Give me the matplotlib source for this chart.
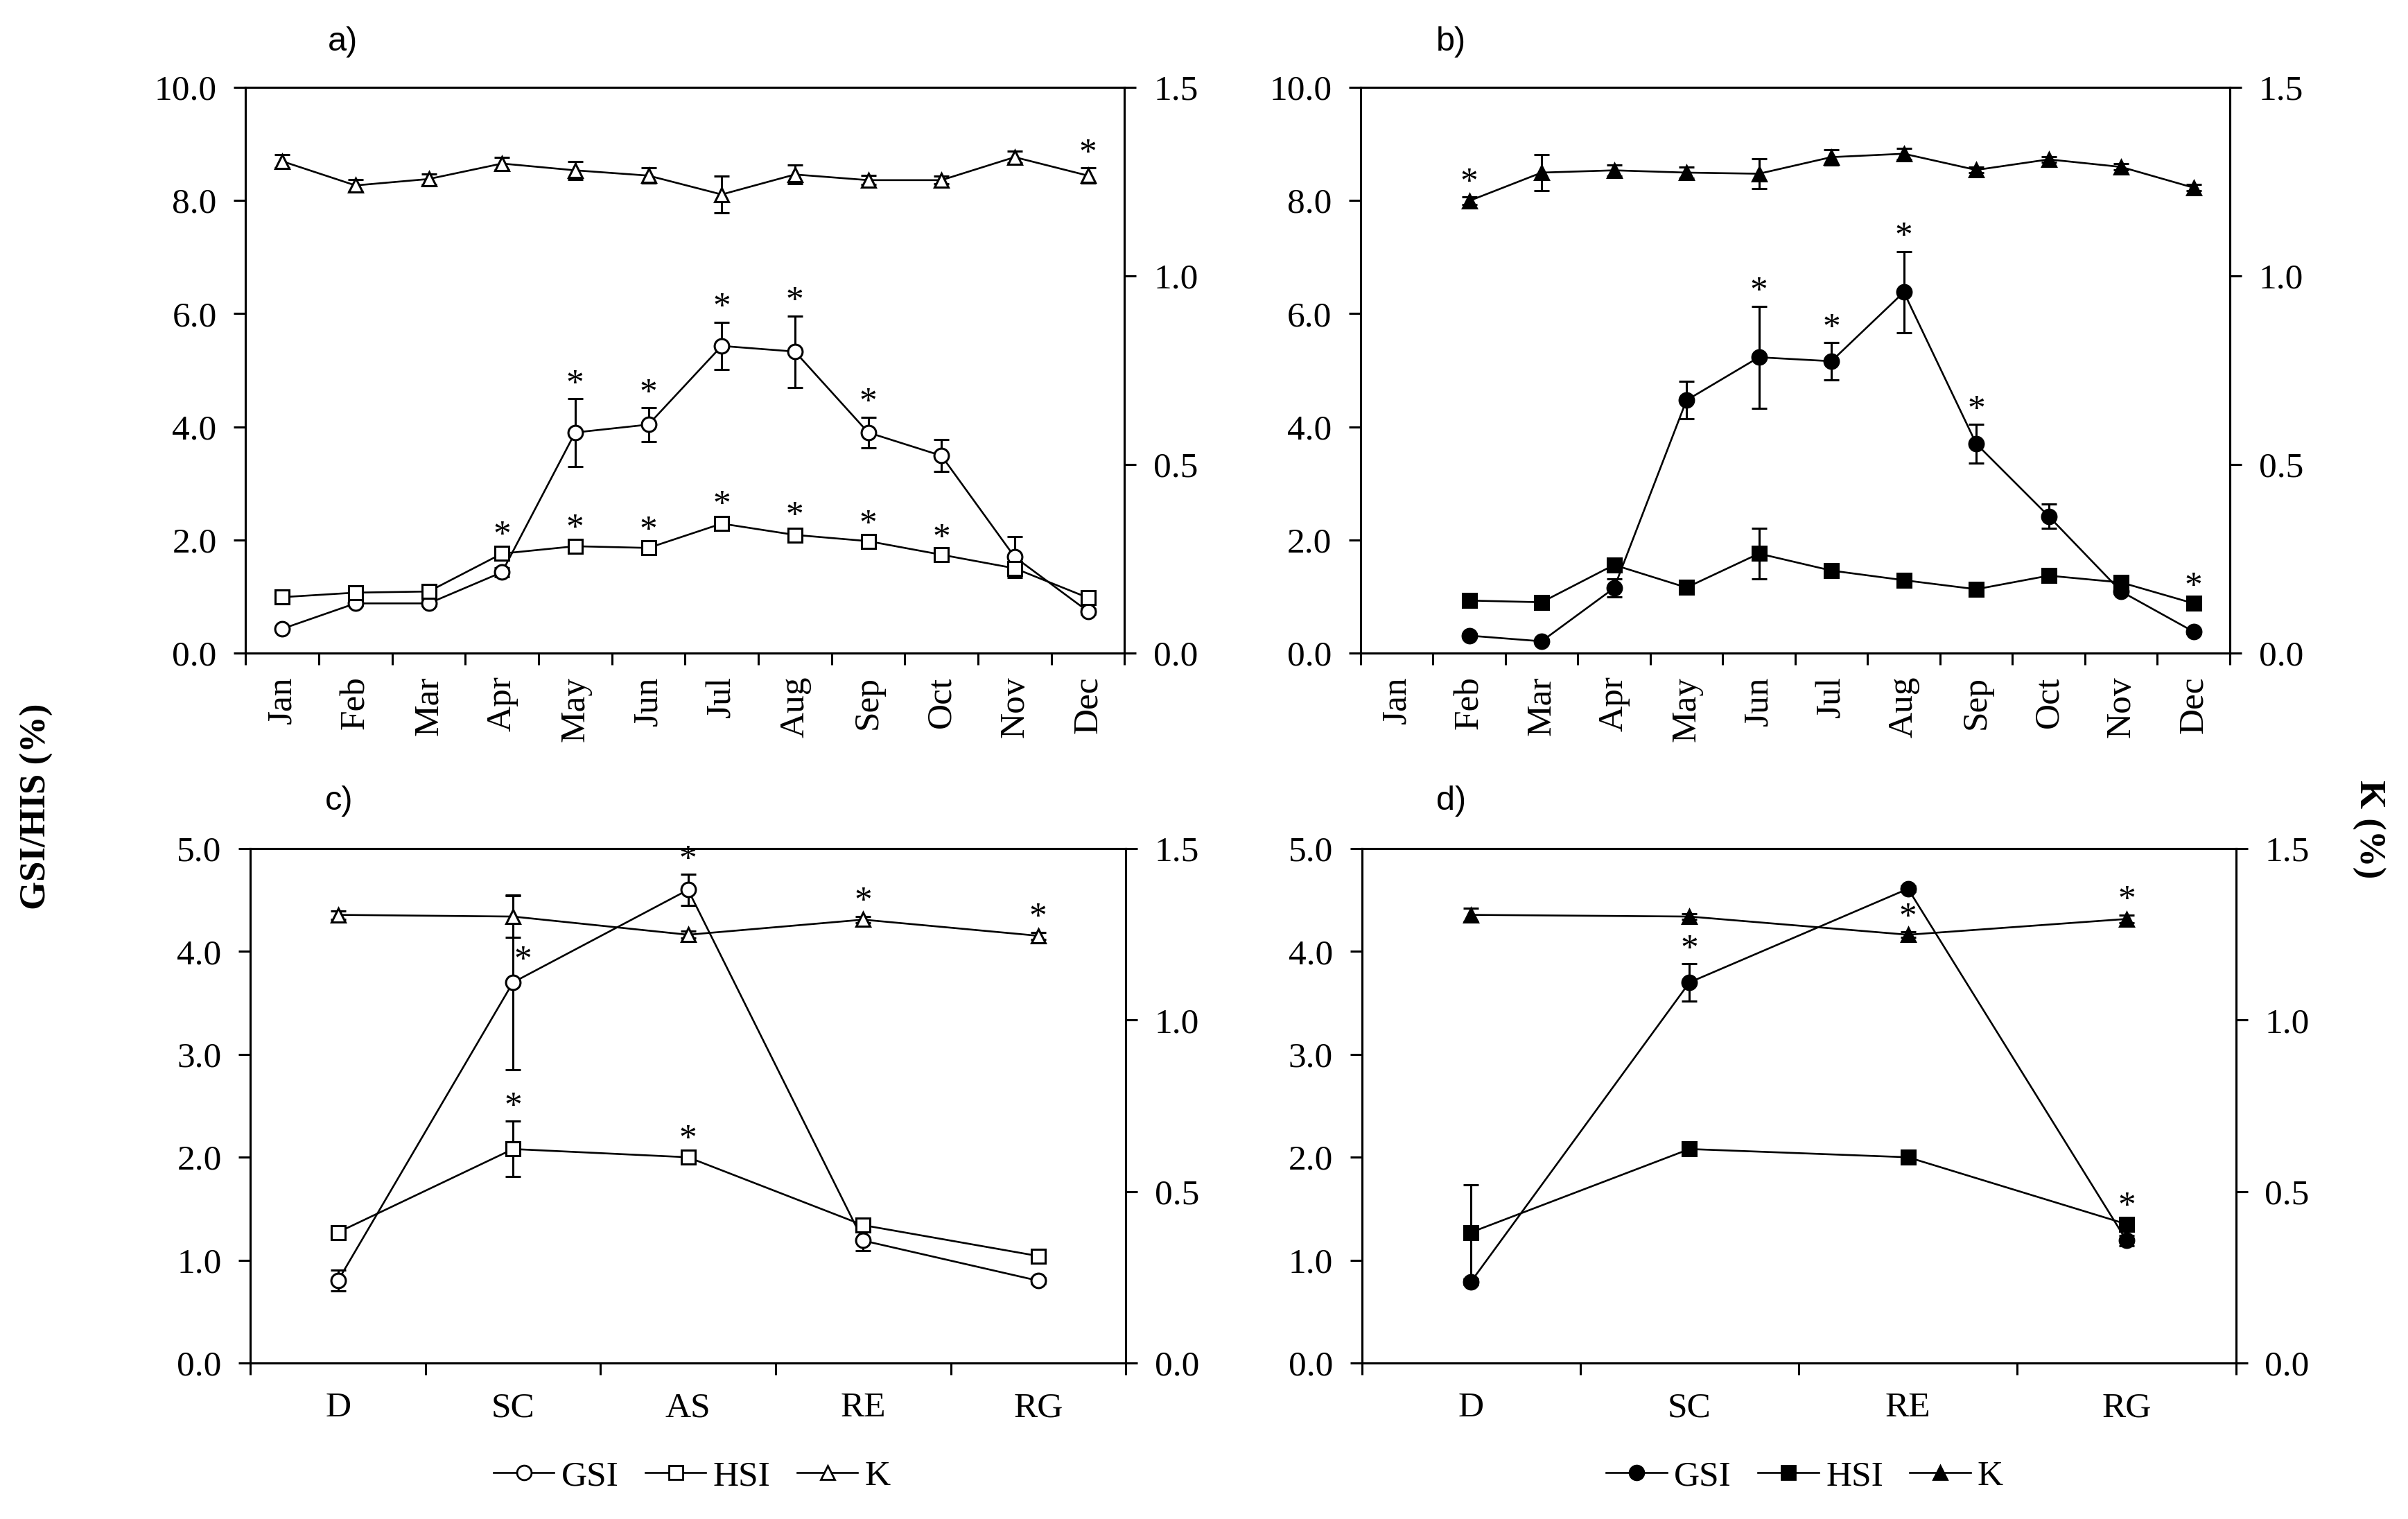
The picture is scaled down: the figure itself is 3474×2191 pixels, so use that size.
import numpy as np
import matplotlib
matplotlib.use("Agg")
import matplotlib.pyplot as plt
from matplotlib.lines import Line2D
from matplotlib.ticker import FormatStrFormatter

plt.rcParams['font.family'] = ['Liberation Serif', 'DejaVu Serif']

nan = np.nan
months = ['Jan', 'Feb', 'Mar', 'Apr', 'May', 'Jun', 'Jul', 'Aug', 'Sep', 'Oct', 'Nov', 'Dec']
stages_c = ['D', 'SC', 'AS', 'RE', 'RG']
stages_d = ['D', 'SC', 'RE', 'RG']

# Panel a (open symbols, monthly)
a_gsi = [0.43, 0.88, 0.88, 1.43, 3.90, 4.04, 5.43, 5.33, 3.90, 3.49, 1.70, 0.74]
a_gsi_err = [0.03, 0.05, 0.05, 0.08, 0.60, 0.30, 0.42, 0.63, 0.27, 0.28, 0.36, 0.05]
a_hsi = [0.99, 1.07, 1.09, 1.76, 1.89, 1.86, 2.29, 2.09, 1.98, 1.74, 1.50, 0.98]
a_hsi_err = [0.03, 0.04, 0.05, 0.06, 0.05, 0.05, 0.07, 0.08, 0.04, 0.04, 0.07, 0.04]
a_k = [1.304, 1.240, 1.257, 1.298, 1.280, 1.266, 1.216, 1.269, 1.254, 1.254, 1.315, 1.266]
a_k_err = [0.018, 0.016, 0.014, 0.016, 0.024, 0.020, 0.048, 0.025, 0.012, 0.010, 0.016, 0.020]
a_stars = [('K', 11), ('GSI', 4), ('GSI', 5), ('GSI', 6), ('GSI', 7), ('GSI', 8),
           ('HSI', 3), ('HSI', 4), ('HSI', 5), ('HSI', 6), ('HSI', 7), ('HSI', 8), ('HSI', 9)]

# Panel b (filled symbols, monthly)
b_gsi = [nan, 0.31, 0.21, 1.15, 4.47, 5.23, 5.16, 6.38, 3.70, 2.42, 1.09, 0.38]
b_gsi_err = [nan, 0.03, 0.03, 0.16, 0.33, 0.90, 0.33, 0.72, 0.34, 0.21, 0.04, 0.03]
b_hsi = [nan, 0.93, 0.90, 1.56, 1.16, 1.76, 1.46, 1.29, 1.13, 1.37, 1.25, 0.88]
b_hsi_err = [nan, 0.08, 0.04, 0.05, 0.05, 0.45, 0.05, 0.04, 0.04, 0.06, 0.04, 0.04]
b_k = [nan, 1.199, 1.274, 1.280, 1.274, 1.271, 1.315, 1.324, 1.281, 1.309, 1.289, 1.234]
b_k_err = [nan, 0.010, 0.047, 0.015, 0.015, 0.039, 0.020, 0.015, 0.008, 0.008, 0.008, 0.008]
b_stars = [('K', 1), ('GSI', 5), ('GSI', 6), ('GSI', 7), ('GSI', 8), ('HSI', 11)]

# Panel c (open symbols, reproductive stages)
c_gsi = [0.80, 3.70, 4.60, 1.19, 0.80]
c_gsi_err = [0.10, 0.85, 0.15, 0.10, 0.03]
c_hsi = [1.27, 2.08, 2.00, 1.34, 1.04]
c_hsi_err = [0.05, 0.27, 0.03, 0.03, 0.03]
c_k = [1.307, 1.302, 1.249, 1.293, 1.246]
c_k_err = [0.012, 0.060, 0.010, 0.010, 0.010]
c_stars = [('GSI', 1), ('HSI', 1), ('GSI', 2), ('HSI', 2), ('K', 3), ('K', 4)]
c_stars_beside = [('GSI', 1)]   # asterisk drawn beside the marker, not above the bar

# Panel d (filled symbols, reproductive stages)
d_gsi = [0.79, 3.70, 4.61, 1.19]
d_gsi_err = [0.03, 0.18, 0.03, 0.05]
d_hsi = [1.27, 2.08, 2.00, 1.35]
d_hsi_err = [0.46, 0.03, 0.03, 0.03]
d_k = [1.307, 1.302, 1.249, 1.295]
d_k_err = [0.020, 0.008, 0.008, 0.012]
d_stars = [('GSI', 1), ('K', 2), ('K', 3), ('HSI', 3)]

FS = 37
LW = 1.9
MS = 15

fig = plt.figure(figsize=(34.74, 21.91), dpi=100)


def panel(rect, cats, gsi, gsi_e, hsi, hsi_e, k, k_e, filled, stars, ymax, ystep, rotate,
          label, label_xy, beside=()):
    ax = fig.add_axes(rect)
    axk = ax.twinx()
    x = np.arange(len(cats))
    fc = 'black' if filled else 'white'
    common = dict(color='black', lw=LW, mec='black', mfc=fc, mew=2.2,
                  ecolor='black', elinewidth=2.2, capsize=8, capthick=2.4)
    ax.errorbar(x, gsi, yerr=gsi_e, marker='o', ms=MS, zorder=3, **common)
    ax.errorbar(x, hsi, yerr=hsi_e, marker='s', ms=MS - 1, zorder=4, **common)
    axk.errorbar(x, k, yerr=k_e, marker='^', ms=MS, zorder=3, **common)
    vals = {'GSI': (ax, gsi, gsi_e), 'HSI': (ax, hsi, hsi_e), 'K': (axk, k, k_e)}
    for name, i in stars:
        a_, v, e = vals[name]
        if (name, i) in beside:
            a_.annotate('*', (x[i], v[i]), xytext=(10, 14), textcoords='offset points',
                        ha='center', va='baseline', fontsize=FS)
        else:
            a_.annotate('*', (x[i], v[i] + e[i]), xytext=(0, 6), textcoords='offset points',
                        ha='center', va='baseline', fontsize=FS)
    n = len(cats)
    ax.set_xlim(-0.5, n - 0.5)
    ax.set_ylim(0, ymax)
    axk.set_ylim(0, 1.5)
    ax.set_yticks(np.arange(0, ymax + 0.01, ystep))
    axk.set_yticks([0, 0.5, 1.0, 1.5])
    ax.yaxis.set_major_formatter(FormatStrFormatter('%.1f'))
    axk.yaxis.set_major_formatter(FormatStrFormatter('%.1f'))
    ax.set_xticks(np.arange(-0.5, n, 1.0))
    ax.set_xticklabels([])
    ax.set_xticks(x, cats, minor=True)
    ax.tick_params(axis='x', which='major', direction='out', length=12, width=2.2)
    ax.tick_params(axis='x', which='minor', length=0, labelsize=FS,
                   pad=(24 if rotate else 30), labelrotation=(90 if rotate else 0))
    ax.tick_params(axis='y', direction='out', length=12, width=2.2, labelsize=FS, pad=18)
    axk.tick_params(axis='y', direction='out', length=12, width=2.2, labelsize=FS, pad=18)
    for a_ in (ax, axk):
        for s in a_.spines.values():
            s.set_linewidth(2.2)
    fig.text(label_xy[0], label_xy[1], label, family='Liberation Sans', fontsize=35,
             ha='center', va='center')
    return ax


panel([0.102, 0.570, 0.365, 0.3725], months, a_gsi, a_gsi_err, a_hsi, a_hsi_err,
      a_k, a_k_err, False, a_stars, 10.0, 2.0, True, 'a)', (0.1422, 0.9726))
panel([0.565, 0.570, 0.361, 0.3725], months, b_gsi, b_gsi_err, b_hsi, b_hsi_err,
      b_k, b_k_err, True, b_stars, 10.0, 2.0, True, 'b)', (0.6025, 0.9726))
panel([0.104, 0.1027, 0.3635, 0.3386], stages_c, c_gsi, c_gsi_err, c_hsi, c_hsi_err,
      c_k, c_k_err, False, c_stars, 5.0, 1.0, False, 'c)', (0.1408, 0.4725),
      beside=c_stars_beside)
panel([0.5655, 0.1027, 0.3630, 0.3386], stages_d, d_gsi, d_gsi_err, d_hsi, d_hsi_err,
      d_k, d_k_err, True, d_stars, 5.0, 1.0, False, 'd)', (0.6025, 0.4725))

fig.text(0.0153, 0.469, 'GSI/HIS (%)', rotation=90, fontsize=38, fontweight='bold',
         ha='center', va='center')
fig.text(0.9835, 0.454, 'K (%)', rotation=-90, fontsize=38, fontweight='bold',
         ha='center', va='center')


def legend_handles(filled):
    fc = 'black' if filled else 'white'
    return [Line2D([], [], color='black', lw=LW, marker=m, ms=MS, mfc=fc, mec='black', mew=2.0)
            for m in ('o', 's', '^')]


for filled, cx in ((False, 0.2874), (True, 0.7495)):
    fig.legend(legend_handles(filled), ['GSI', 'HSI', 'K'], loc='center',
               bbox_to_anchor=(cx, 0.028), ncol=3, frameon=False, fontsize=FS,
               handlelength=1.7, handletextpad=0.2, columnspacing=0.75)

fig.savefig('out.png', dpi=100)
